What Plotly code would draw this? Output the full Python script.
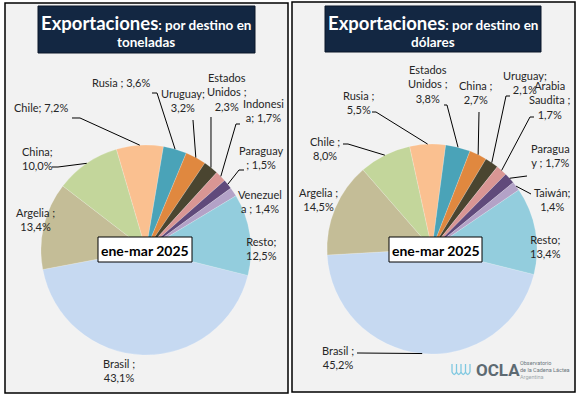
import math
import plotly.graph_objects as go

W, H = 579, 398

# ---------------- data ----------------
ton_names = ["Brasil", "Argelia", "China", "Chile", "Rusia", "Uruguay",
             "Estados Unidos", "Indonesia", "Paraguay", "Venezuela", "Resto"]
ton_values = [43.1, 13.4, 10.0, 7.2, 3.6, 3.2, 2.3, 1.7, 1.5, 1.4, 12.5]
ton_label_prefix = ["Brasil ;<br>", "Argelia ;<br>", "China;<br>", "Chile; ",
                    "Rusia ; ", "Uruguay;<br>", "Estados<br>Unidos ;<br>",
                    "Indonesi<br>a; ", "Paraguay<br>; ", "Venezuel<br>a ; ",
                    "Resto;<br>"]

usd_names = ["Brasil", "Argelia", "Chile", "Rusia", "Estados Unidos", "China",
             "Uruguay", "Arabia Saudita", "Paraguay", "Taiwán", "Resto"]
usd_values = [45.2, 14.5, 8.0, 5.5, 3.8, 2.7, 2.1, 1.7, 1.7, 1.4, 13.4]
usd_label_prefix = ["Brasil ;<br>", "Argelia ;<br>", "Chile ;<br>",
                    "Rusia ;<br>", "Estados<br>Unidos ;<br>", "China ;<br>",
                    "Uruguay;<br>", "Arabia<br>Saudita ;<br>", "Paragua<br>y ; ",
                    "Taiwán;<br>", "Resto;<br>"]

colors = ["#c6d9f1", "#c4bd97", "#c3d69b", "#fac090", "#4aa3b8", "#e0883f",
          "#4a4530", "#d99694", "#604a7b", "#b3a2c7", "#93cddd"]

period = "ene-mar 2025"
titles_sub = ["toneladas", "dólares"]

# ---------------- layout helpers ----------------
def X(px):
    return px / W


def Y(py):
    return 1 - py / H


ROT = 104
panels = [
    dict(box=(5, 3, 288, 393), tbox=(38, 6, 255, 53), cx=146, cy=250, r=105,
         names=ton_names, values=ton_values, prefix=ton_label_prefix,
         sub=titles_sub[0], ebox=(98, 237, 192, 262),
         labels=[(119, 370), (35, 219), (37, 158), (41, 107), (121, 82),
                 (183, 101), (227, 92), (263, 111), (261, 157), (260, 201),
                 (261, 248)],
         leaders={2: [(52, 167), (58, 167)], 3: [(72, 118), (80, 118)],
                  4: [(152, 93), (157, 93)], 5: [(193, 120)],
                  6: [(211, 117)], 7: [(240, 124), (236, 124)],
                  8: [(244, 170), (239, 170)]}),
    dict(box=(292, 2, 575, 392), tbox=(325, 6, 541, 52), cx=432, cy=249, r=105,
         names=usd_names, values=usd_values, prefix=usd_label_prefix,
         sub=titles_sub[1], ebox=(389, 237, 482, 262),
         labels=[(338, 357), (318, 200), (325, 148), (358, 102), (428, 84),
                 (476, 92), (525, 83), (550, 100), (550, 155), (552, 200),
                 (545, 246)],
         leaders={0: [(357, 353)], 2: [(343, 144), (348, 144)],
                  3: [(372, 112), (376, 112)], 4: [(444, 105), (447, 105)],
                  5: [(479, 112)], 6: [(510, 96), (506, 96)],
                  7: [(534, 117), (530, 117)], 8: [(527, 176)],
                  9: [(531, 194)]}),
]


def slice_edge(values, i, cx, cy, r):
    tot = sum(values)
    start = sum(values[:i]) / tot * 360
    mid = ROT + start + values[i] / tot * 360 / 2
    a = math.radians(mid)
    return cx + r * math.sin(a), cy - r * math.cos(a)


fig = go.Figure()
shapes = []
annotations = []
label_font = dict(family="Lato, Carlito, sans-serif", size=11, color="#262626")

for p in panels:
    x0, y0, x1, y1 = p["box"]
    shapes.append(dict(type="rect", xref="paper", yref="paper", layer="below",
                       x0=X(x0), x1=X(x1), y0=Y(y1), y1=Y(y0),
                       fillcolor="#f2f2f2", line=dict(color="black", width=1.5)))
    cx, cy, r = p["cx"], p["cy"], p["r"]
    fig.add_trace(go.Pie(
        labels=p["names"], values=p["values"], sort=False, direction="clockwise",
        rotation=ROT, textinfo="none", hoverinfo="label+percent",
        marker=dict(colors=colors, line=dict(color="rgba(255,255,255,0.35)", width=0.5)),
        domain=dict(x=[X(cx - r), X(cx + r)], y=[Y(cy + r), Y(cy - r)]),
        showlegend=False))
    # title box
    tx0, ty0, tx1, ty1 = p["tbox"]
    shapes.append(dict(type="rect", xref="paper", yref="paper",
                       x0=X(tx0), x1=X(tx1), y0=Y(ty1), y1=Y(ty0),
                       fillcolor="#132742", line=dict(color="#0a1628", width=1)))
    tcx = (tx0 + tx1) / 2
    annotations.append(dict(
        x=X(tcx), y=Y(23), xref="paper", yref="paper", showarrow=False,
        xanchor="center", yanchor="middle",
        text="<b>Exportaciones</b><span style='font-size:13.5px'><b>: por destino en</b></span>",
        font=dict(family="Lato, sans-serif", size=18.5, color="white")))
    annotations.append(dict(
        x=X(tcx), y=Y(42), xref="paper", yref="paper", showarrow=False,
        xanchor="center", yanchor="middle", text="<b>" + p["sub"] + "</b>",
        font=dict(family="Lato, sans-serif", size=13.5, color="white")))
    # period box
    ex0, ey0, ex1, ey1 = p["ebox"]
    shapes.append(dict(type="rect", xref="paper", yref="paper",
                       x0=X(ex0), x1=X(ex1), y0=Y(ey1), y1=Y(ey0),
                       fillcolor="white", line=dict(color="black", width=1)))
    annotations.append(dict(
        x=X((ex0 + ex1) / 2), y=Y((ey0 + ey1) / 2 + 0.5), xref="paper", yref="paper",
        showarrow=False, xanchor="center", yanchor="middle", text="<b>" + period + "</b>",
        font=dict(family="Lato, sans-serif", size=14, color="black")))
    # labels
    for i, v in enumerate(p["values"]):
        txt = p["prefix"][i] + f"{v:.1f}".replace(".", ",") + "%"
        lx, ly = p["labels"][i]
        annotations.append(dict(x=X(lx), y=Y(ly), xref="paper", yref="paper",
                                showarrow=False, xanchor="center", yanchor="middle",
                                align="center", text=txt, font=label_font))
    # leader lines
    for i, pts in p["leaders"].items():
        ex, ey = slice_edge(p["values"], i, cx, cy, r)
        allpts = pts + [(ex, ey)]
        path = "M " + " L ".join(f"{X(a):.5f},{Y(b):.5f}" for a, b in allpts)
        shapes.append(dict(type="path", xref="paper", yref="paper", path=path,
                           line=dict(color="black", width=1)))

# OCLA logo (approximation)
wave = []
bx = 452
for k in range(4):
    xa = bx + k * 4.5
    wave.append(f"M {X(xa):.5f},{Y(364):.5f} L {X(xa):.5f},{Y(372):.5f} "
                f"Q {X(xa + 2.2):.5f},{Y(377):.5f} {X(xa + 4.5):.5f},{Y(372):.5f}")
shapes.append(dict(type="path", xref="paper", yref="paper", path=" ".join(wave),
                   line=dict(color="#7fc8e0", width=1.3)))
shapes.append(dict(type="line", xref="paper", yref="paper", x0=X(470), x1=X(470),
                   y0=Y(364), y1=Y(372), line=dict(color="#7fc8e0", width=1.3)))
annotations.append(dict(x=X(474), y=Y(370), xref="paper", yref="paper", showarrow=False,
                        xanchor="left", yanchor="middle", text="<b>OCLA</b>",
                        font=dict(family="Roboto, sans-serif", size=17, color="#5d6a72")))
annotations.append(dict(x=X(518), y=Y(370), xref="paper", yref="paper", showarrow=False,
                        xanchor="left", yanchor="middle", align="left",
                        text="Observatorio<br>de la Cadena Láctea<br><span style='color:#a0a8ad'>Argentina</span>",
                        font=dict(family="Roboto, sans-serif", size=5.5, color="#6b767c")))

fig.update_layout(width=W, height=H, margin=dict(l=0, r=0, t=0, b=0),
                  paper_bgcolor="white", plot_bgcolor="white",
                  shapes=shapes, annotations=annotations)

fig.write_html("out.html", include_plotlyjs=True, config={"displayModeBar": False},
               post_script="document.body.style.margin='0';document.body.style.overflow='hidden';")
